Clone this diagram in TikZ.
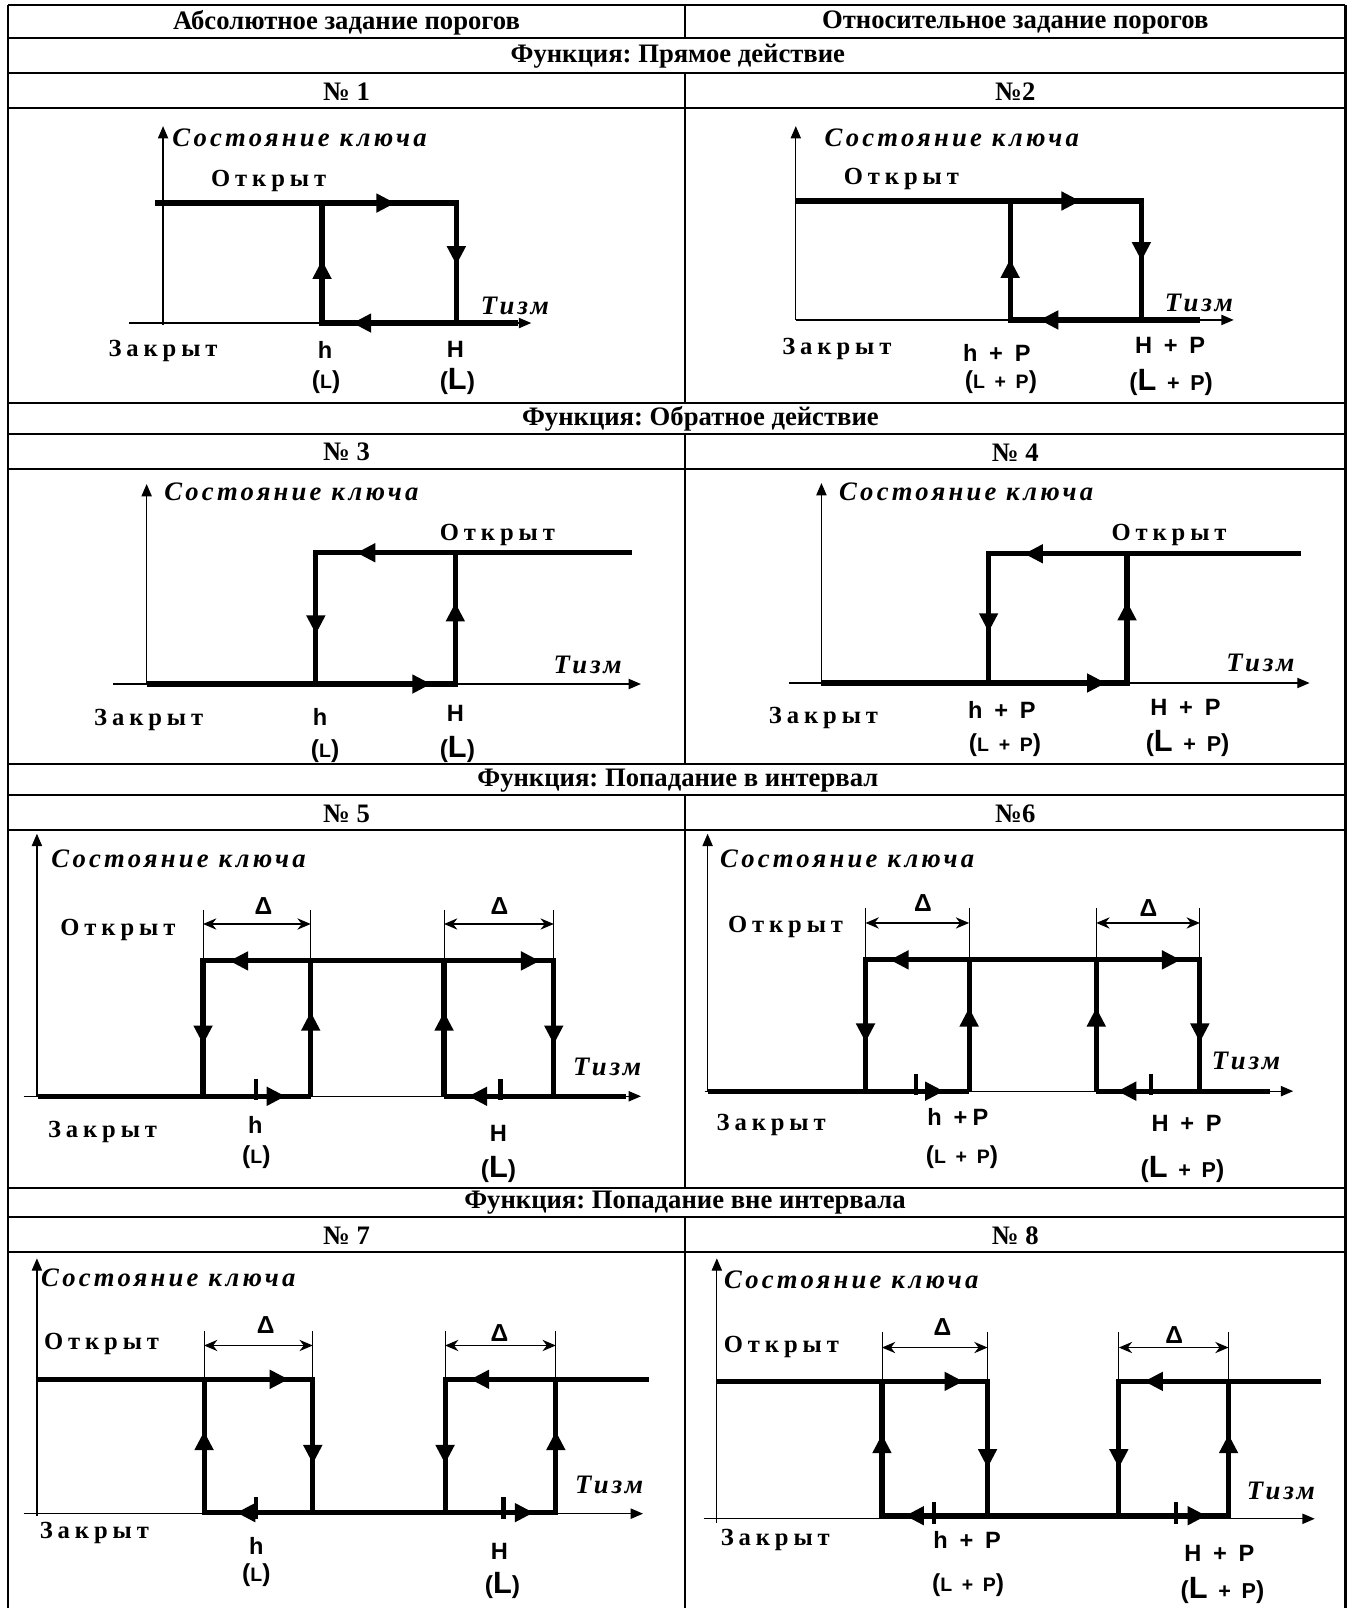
\documentclass[tikz,border=0pt]{standalone}
\usepackage{fontspec}
\setmainfont{Liberation Serif}
\newfontfamily\keyfont{Liberation Serif}[LetterSpace=12]
\newfontfamily\statefont{Liberation Serif}[LetterSpace=20]
\newfontfamily\thrfont{Liberation Sans}[LetterSpace=22]
\newfontfamily\deltafont{Liberation Sans}
\usetikzlibrary{arrows.meta}
\frenchspacing

% threshold labels in brackets
\newcommand{\Lsm}{{\fontsize{24}{26}\selectfont(}{\fontsize{19}{21}\selectfont L}{\fontsize{24}{26}\selectfont)}}
\newcommand{\Lbg}{{\fontsize{24}{26}\selectfont(}{\fontsize{30}{32}\selectfont L}{\fontsize{24}{26}\selectfont)}}
\newcommand{\LPsm}{{\fontsize{24}{26}\selectfont(}{\fontsize{19}{21}\selectfont L + P}{\fontsize{24}{26}\selectfont)}}
\newcommand{\LPbg}{{\fontsize{24}{26}\selectfont(}{\fontsize{30}{32}\selectfont L}{\fontsize{21}{23}\selectfont\ + P}{\fontsize{24}{26}\selectfont)}}

\begin{document}
\begin{tikzpicture}[x=1pt, y=-1pt,
    rule/.style={line width=2pt},
    axis/.style={line width=1.2pt, -{Triangle[length=12pt,width=10pt]}},
    loop/.style={line width=5pt, line join=miter},
    tick/.style={line width=4pt},
    ext/.style={line width=0.8pt},
    dim/.style={line width=1.3pt, {Stealth[length=13pt,width=11pt]}-{Stealth[length=13pt,width=11pt]}},
    tri/.pic={\fill (0,0) -- (-18,9.5) -- (-18,-9.5) -- cycle;},
    hdr/.style={inner sep=0pt, font=\fontsize{26}{30}\selectfont\bfseries},
    key/.style={inner sep=0pt, anchor=west, font=\keyfont\fontsize{26}{30}\selectfont\bfseries\itshape},
    tizm/.style={inner sep=0pt, font=\keyfont\fontsize{26}{30}\selectfont\bfseries\itshape},
    state/.style={inner sep=0pt, font=\statefont\fontsize{24}{28}\selectfont\bfseries},
    thr/.style={inner sep=0pt, font=\thrfont\fontsize{23}{26}\selectfont\bfseries},
    delta/.style={inner sep=0pt, font=\deltafont\fontsize{24}{28}\selectfont\bfseries}]
    \useasboundingbox (0,0) rectangle (1314,1568);

    %----------------------
    % TABLE GRID
    %----------------------
    \draw[rule] (8,5) -- (1312,5);
    \foreach \y in {37,71,105,393,423,457,745,775,809,1158,1187,1221}
        \draw[rule] (8,\y) -- (1312,\y);
    \draw[rule] (8,5) -- (8,1568);
    \draw[rule] (1312,5) -- (1312,1568);
    % column divider (not in the function rows)
    \draw[rule] (668,5) -- (668,37);
    \draw[rule] (668,71) -- (668,393);
    \draw[rule] (668,423) -- (668,745);
    \draw[rule] (668,775) -- (668,1158);
    \draw[rule] (668,1187) -- (668,1568);

    % header texts
    \node[hdr] (colA) at (338,22) {Абсолютное задание порогов};
    \node[hdr] (colB) at (990,22) {Относительное задание порогов};
    \node[hdr] (fn1) at (661,55) {Функция: Прямое действие};
    \node[hdr] (num1) at (338,89) {№ 1};
    \node[hdr] (num2) at (990,89) {№2};
    \node[hdr] (fn2) at (683,408) {Функция: Обратное действие};
    \node[hdr] (num3) at (338,441) {№ 3};
    \node[hdr] (num4) at (990,441) {№ 4};
    \node[hdr] (fn3) at (661,761) {Функция: Попадание в интервал};
    \node[hdr] (num5) at (338,794) {№ 5};
    \node[hdr] (num6) at (990,794) {№6};
    \node[hdr] (fn4) at (668,1173) {Функция: Попадание вне интервала};
    \node[hdr] (num7) at (338,1205) {№ 7};
    \node[hdr] (num8) at (990,1205) {№ 8};

    %----------------------
    % No 1 (direct action, absolute)
    %----------------------
    \draw[axis] (159,317) -- (159,123);
    \draw[axis] (126,315) -- (518,315);
    \draw[loop] (151,198) -- (445,198) -- (445,315);
    \draw[loop] (314,198) -- (314,315) -- (505,315);
    \pic at (385,198) {tri};
    \pic[rotate=90] at (314,254) {tri};
    \pic[rotate=270] at (445,258) {tri};
    \pic[rotate=180] at (344,315) {tri};
    \node[key] (key1) at (168,134) {Состояние ключа};
    \node[state] (open1) at (262,176) {Открыт};
    \node[tizm] (tizm1) at (502,298) {Тизм};
    \node[state] (closed1) at (159,342) {Закрыт};
    \node[thr] (lo1) at (317,341) {h};
    \node[thr] (loL1) at (318,373) {\Lsm};
    \node[thr] (hi1) at (444,341) {H};
    \node[thr] (hiL1) at (446,372) {\Lbg};

    %----------------------
    % No 2 (direct action, relative)
    %----------------------
    \draw[axis] (776,312) -- (776,123);
    \draw[axis] (776,312) -- (1203,312);
    \draw[loop] (776,196) -- (1113,196) -- (1113,312);
    \draw[loop] (985,196) -- (985,312) -- (1170,312);
    \pic at (1053,196) {tri};
    \pic[rotate=90] at (985,253) {tri};
    \pic[rotate=270] at (1113,254) {tri};
    \pic[rotate=180] at (1014,312) {tri};
    \node[key] (key2) at (804,134) {Состояние ключа};
    \node[state] (open2) at (879,175) {Открыт};
    \node[tizm] (tizm2) at (1169,295) {Тизм};
    \node[state] (closed2) at (816,340) {Закрыт};
    \node[thr] (lo2) at (972,344) {h + P};
    \node[thr] (loL2) at (976,373) {\LPsm};
    \node[thr] (hi2) at (1141,337) {H + P};
    \node[thr] (hiL2) at (1142,373) {\LPbg};

    %----------------------
    % No 3 (reverse action, absolute)
    %----------------------
    \draw[axis] (143,667) -- (143,472);
    \draw[axis] (110,667) -- (625,667);
    \draw[loop] (143,667) -- (444,667) -- (444,539);
    \draw[loop] (308,667) -- (308,539) -- (616,539);
    \pic at (420,667) {tri};
    \pic[rotate=270] at (308,618) {tri};
    \pic[rotate=90] at (444,588) {tri};
    \pic[rotate=180] at (348,539) {tri};
    \node[key] (key3) at (160,480) {Состояние ключа};
    \node[state] (open3) at (485,522) {Открыт};
    \node[tizm] (tizm3) at (573,648) {Тизм};
    \node[state] (closed3) at (145,702) {Закрыт};
    \node[thr] (lo3) at (312,699) {h};
    \node[thr] (loL3) at (317,732) {\Lsm};
    \node[thr] (hi3) at (444,696) {H};
    \node[thr] (hiL3) at (446,731) {\Lbg};

    %----------------------
    % No 4 (reverse action, relative)
    %----------------------
    \draw[axis] (801,666) -- (801,471);
    \draw[axis] (769,666) -- (1277,666);
    \draw[loop] (801,666) -- (1099,666) -- (1099,540);
    \draw[loop] (964,666) -- (964,540) -- (1269,540);
    \pic at (1078,666) {tri};
    \pic[rotate=270] at (964,616) {tri};
    \pic[rotate=90] at (1099,587) {tri};
    \pic[rotate=180] at (999,540) {tri};
    \node[key] (key4) at (818,480) {Состояние ключа};
    \node[state] (open4) at (1140,522) {Открыт};
    \node[tizm] (tizm4) at (1229,646) {Тизм};
    \node[state] (closed4) at (803,700) {Закрыт};
    \node[thr] (lo4) at (977,692) {h + P};
    \node[thr] (loL4) at (980,727) {\LPsm};
    \node[thr] (hi4) at (1156,690) {H + P};
    \node[thr] (hiL4) at (1158,725) {\LPbg};

    %----------------------
    % No 5 (inside interval, absolute)
    %----------------------
    \draw[axis] (36,1069) -- (36,813);
    \draw[axis] (23,1069) -- (625,1069);
    \draw[loop] (37,1069) -- (303,1069);
    \draw[loop] (433,1069) -- (610,1069);
    \draw[loop] (198,1069) -- (198,937) -- (540,937) -- (540,1069);
    \draw[loop] (303,1069) -- (303,937);
    \draw[loop] (433,1069) -- (433,937);
    \pic at (278,1069) {tri};
    \pic[rotate=180] at (457,1069) {tri};
    \pic[rotate=270] at (198,1018) {tri};
    \pic[rotate=90] at (303,987) {tri};
    \pic[rotate=90] at (433,987) {tri};
    \pic[rotate=270] at (540,1018) {tri};
    \pic[rotate=180] at (224,937) {tri};
    \pic at (526,937) {tri};
    \draw[tick] (250,1052) -- (250,1073);
    \draw[tick] (488,1052) -- (488,1073);
    \foreach \x in {198,303,433,540}
        \draw[ext] (\x,887) -- (\x,937);
    \draw[dim] (198,901) -- (303,901);
    \draw[dim] (433,901) -- (540,901);
    \node[delta] (d5a) at (257,883) {Δ};
    \node[delta] (d5b) at (487,883) {Δ};
    \node[key] (key5) at (50,837) {Состояние ключа};
    \node[state] (open5) at (115,907) {Открыт};
    \node[tizm] (tizm5) at (592,1040) {Тизм};
    \node[state] (closed5) at (100,1104) {Закрыт};
    \node[thr] (lo5) at (249,1097) {h};
    \node[thr] (loL5) at (250,1128) {\Lsm};
    \node[thr] (hi5) at (486,1105) {H};
    \node[thr] (hiL5) at (486,1140) {\Lbg};

    %----------------------
    % No 6 (inside interval, relative)
    %----------------------
    \draw[axis] (690,1064) -- (690,813);
    \draw[axis] (687,1064) -- (1261,1064);
    \draw[loop] (690,1064) -- (945,1064);
    \draw[loop] (1069,1064) -- (1238,1064);
    \draw[loop] (844,1064) -- (844,936) -- (1170,936) -- (1170,1064);
    \draw[loop] (945,1064) -- (945,936);
    \draw[loop] (1069,1064) -- (1069,936);
    \pic at (920,1064) {tri};
    \pic[rotate=180] at (1090,1064) {tri};
    \pic[rotate=270] at (844,1016) {tri};
    \pic[rotate=90] at (945,983) {tri};
    \pic[rotate=90] at (1069,983) {tri};
    \pic[rotate=270] at (1170,1016) {tri};
    \pic[rotate=180] at (868,936) {tri};
    \pic at (1151,936) {tri};
    \draw[tick] (893,1047) -- (893,1068);
    \draw[tick] (1122,1047) -- (1122,1068);
    \foreach \x in {844,945,1069,1170}
        \draw[ext] (\x,885) -- (\x,936);
    \draw[dim] (844,900) -- (945,900);
    \draw[dim] (1069,900) -- (1170,900);
    \node[delta] (d6a) at (900,881) {Δ};
    \node[delta] (d6b) at (1120,885) {Δ};
    \node[key] (key6) at (702,837) {Состояние ключа};
    \node[state] (open6) at (766,904) {Открыт};
    \node[tizm] (tizm6) at (1215,1035) {Тизм};
    \node[state] (closed6) at (752,1097) {Закрыт};
    \node[thr] (lo6) at (934,1089) {h +P};
    \node[thr] (loL6) at (938,1128) {\LPsm};
    \node[thr] (hi6) at (1157,1095) {H + P};
    \node[thr] (hiL6) at (1153,1140) {\LPbg};

    %----------------------
    % No 7 (outside interval, absolute)
    %----------------------
    \draw[axis] (36,1478) -- (36,1227);
    \draw[axis] (23,1476) -- (627,1476);
    \draw[loop] (37,1345) -- (305,1345) -- (305,1475);
    \draw[loop] (199,1345) -- (199,1475) -- (542,1475) -- (542,1345);
    \draw[loop] (434,1475) -- (434,1345) -- (633,1345);
    \pic at (281,1345) {tri};
    \pic[rotate=180] at (459,1345) {tri};
    \pic[rotate=90] at (199,1396) {tri};
    \pic[rotate=270] at (305,1427) {tri};
    \pic[rotate=270] at (434,1427) {tri};
    \pic[rotate=90] at (542,1396) {tri};
    \pic[rotate=180] at (231,1475) {tri};
    \pic at (520,1475) {tri};
    \draw[tick] (250,1460) -- (250,1481);
    \draw[tick] (491,1460) -- (491,1481);
    \foreach \x in {199,305,434,542}
        \draw[ext] (\x,1298) -- (\x,1345);
    \draw[dim] (199,1312) -- (305,1312);
    \draw[dim] (434,1312) -- (542,1312);
    \node[delta] (d7a) at (259,1292) {Δ};
    \node[delta] (d7b) at (487,1300) {Δ};
    \node[key] (key7) at (40,1246) {Состояние ключа};
    \node[state] (open7) at (99,1311) {Открыт};
    \node[tizm] (tizm7) at (594,1448) {Тизм};
    \node[state] (closed7) at (92,1495) {Закрыт};
    \node[thr] (lo7) at (250,1507) {h};
    \node[thr] (loL7) at (250,1536) {\Lsm};
    \node[thr] (hi7) at (487,1513) {H};
    \node[thr] (hiL7) at (490,1546) {\Lbg};

    %----------------------
    % No 8 (outside interval, relative)
    %----------------------
    \draw[axis] (699,1485) -- (699,1227);
    \draw[axis] (686,1481) -- (1282,1481);
    \draw[loop] (699,1347) -- (963,1347) -- (963,1478);
    \draw[loop] (860,1347) -- (860,1478) -- (1198,1478) -- (1198,1347);
    \draw[loop] (1091,1478) -- (1091,1347) -- (1288,1347);
    \pic at (939,1347) {tri};
    \pic[rotate=180] at (1116,1347) {tri};
    \pic[rotate=90] at (860,1399) {tri};
    \pic[rotate=270] at (963,1431) {tri};
    \pic[rotate=270] at (1091,1431) {tri};
    \pic[rotate=90] at (1198,1399) {tri};
    \pic[rotate=180] at (883,1478) {tri};
    \pic at (1176,1478) {tri};
    \draw[tick] (911,1465) -- (911,1486);
    \draw[tick] (1147,1465) -- (1147,1486);
    \foreach \x in {860,963,1091,1198}
        \draw[ext] (\x,1299) -- (\x,1347);
    \draw[dim] (860,1314) -- (963,1314);
    \draw[dim] (1091,1314) -- (1198,1314);
    \node[delta] (d8a) at (919,1294) {Δ};
    \node[delta] (d8b) at (1145,1302) {Δ};
    \node[key] (key8) at (706,1248) {Состояние ключа};
    \node[state] (open8) at (762,1313) {Открыт};
    \node[tizm] (tizm8) at (1249,1454) {Тизм};
    \node[state] (closed8) at (756,1502) {Закрыт};
    \node[thr] (lo8) at (943,1502) {h + P};
    \node[thr] (loL8) at (944,1546) {\LPsm};
    \node[thr] (hi8) at (1189,1515) {H + P};
    \node[thr] (hiL8) at (1192,1551) {\LPbg};

\end{tikzpicture}
\end{document}
